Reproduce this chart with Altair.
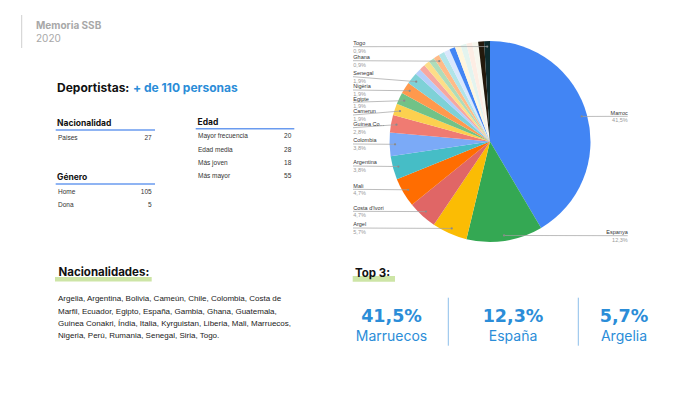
import math
import altair as alt
import pandas as pd

# ---------------- data ----------------
pie_countries = ["Marroc", "Espanya", "Argel", "Costa d'Ivori", "Mali", "Argentina",
                 "Colombia", "Guinea Conakri", "Camerun", "Egipte", "Nigèria", "Senegal",
                 "Bolívia", "Xile", "Equador", "Gàmbia", "Ghana", "Guatemala", "Índia",
                 "Itàlia", "Kirguizistan", "Libèria", "Perú", "Romania", "Síria", "Togo"]
pie_counts = [44, 13, 6, 5, 5, 4, 4, 3, 2, 2, 2, 2,
              1, 1, 1, 1, 1, 1, 1, 1, 1, 1, 1, 1, 1, 1]
pie_colors = ["#4285F4", "#34A853", "#FBBC04", "#E06666", "#FF6D01", "#46BDC6",
              "#7BAAF7", "#F07B72", "#FCD04F", "#71C287", "#FF994D", "#7ED1D7",
              "#B3CEFB", "#F7A7A0", "#FDDE88", "#AEDCBA", "#FFBB88", "#B0E4E8",
              "#D9E7FD", "#4285F4", "#FFF6DD", "#E3F4EF", "#FDEDE4", "#F7F7EE",
              "#24190C", "#0D2B2E"]
label_text = {"Guinea Conakri": "Guinea Co..."}
right_labels = ["Marroc", "Espanya"]
# leader-line label rows (layout)
label_line_y = {"Marroc": 116.3, "Espanya": 235.7, "Argel": 228.0, "Costa d'Ivori": 211.3,
                "Mali": 189.3, "Argentina": 166.0, "Colombia": 144.0, "Guinea Conakri": 127.7,
                "Camerun": 115.0, "Egipte": 102.3, "Nigèria": 90.0, "Senegal": 76.7,
                "Ghana": 60.7, "Togo": 46.7}

nac_labels = ["Paises"]
nac_values = [27]
gen_labels = ["Home", "Dona"]
gen_values = [105, 5]
edad_labels = ["Mayor frecuencia", "Edad media", "Más joven", "Más mayor"]
edad_values = [20, 28, 18, 55]

top3_names = ["Marruecos", "España", "Argelia"]

nacionalidades_lines = [
    "Argelia, Argentina, Bolivia, Cameún, Chile, Colombia, Costa de",
    "Marfil, Ecuador, Egipto, España, Gambia, Ghana, Guatemala,",
    "Guinea Conakri, Índia, Italia, Kyrguistan, Liberia, Mali, Marruecos,",
    "Nigeria, Perú, Rumania, Senegal, Siria, Togo.",
]

# ---------------- helpers ----------------
BLUE = "#2B8DD8"
xs = alt.Scale(domain=[8, 692], nice=False, zero=False)
ys = alt.Scale(domain=[385, 8], nice=False, zero=False)


def X(f):
    return alt.X(f"{f}:Q", scale=xs, axis=None)


def Y(f):
    return alt.Y(f"{f}:Q", scale=ys, axis=None)


def texts(rows, size, color, font, weight="normal", align="left", baseline="middle"):
    df = pd.DataFrame(rows, columns=["x", "y", "t"])
    return alt.Chart(df).mark_text(fontSize=size, color=color, font=font, fontWeight=weight,
                                   align=align, baseline=baseline).encode(
        x=X("x"), y=Y("y"), text="t:N")


def rules(rows, color, width):
    df = pd.DataFrame(rows, columns=["x1", "y1", "x2", "y2"])
    return alt.Chart(df).mark_rule(color=color, strokeWidth=width).encode(
        x=X("x1"), y=Y("y1"), x2="x2:Q", y2="y2:Q")


def rects(rows, color):
    df = pd.DataFrame(rows, columns=["x1", "y1", "x2", "y2"])
    return alt.Chart(df).mark_rect(color=color).encode(
        x=X("x1"), y=Y("y1"), x2="x2:Q", y2="y2:Q")


def pct(n, total):
    return f"{n / total * 100:.1f}".replace(".", ",") + "%"


layers = []

# ---------------- header ----------------
layers.append(rules([(21.7, 15, 21.7, 48)], "#cfcfcf", 1))
layers.append(texts([(36, 26, "Memoria SSB")], 10, "#a8a8a8", "Inter", "bold"))
layers.append(texts([(36, 39, "2020")], 10, "#a8a8a8", "Inter"))

layers.append(texts([(57, 87.5, "Deportistas:")], 12, "#111111", "Inter", "bold"))
layers.append(texts([(133, 87.5, "+ de 110 personas")], 12, BLUE, "Inter", "bold"))

# ---------------- tables ----------------
HEAD = dict(size=8.5, color="#111111", font="Inter", weight="bold")
ROW = dict(size=6.5, color="#333333", font="Liberation Sans")

layers.append(texts([(57, 123, "Nacionalidad"), (57, 177, "Género"), (197.5, 121.5, "Edad")], **HEAD))
layers.append(rules([(55.7, 130, 155, 130), (55.7, 184, 155, 184), (195.7, 128.7, 294.3, 128.7)],
                    "#6A9BEF", 1.6))

left_rows = []
left_vals = []
for i, (l, v) in enumerate(zip(nac_labels, nac_values)):
    left_rows.append((58, 137.5 + i * 13.3, l))
    left_vals.append((151.7, 137.5 + i * 13.3, str(v)))
for i, (l, v) in enumerate(zip(gen_labels, gen_values)):
    left_rows.append((58, 191.7 + i * 13.3, l))
    left_vals.append((151.7, 191.7 + i * 13.3, str(v)))
for i, (l, v) in enumerate(zip(edad_labels, edad_values)):
    left_rows.append((198, 136.3 + i * 13.35, l))
    left_vals.append((291.3, 136.3 + i * 13.35, str(v)))
layers.append(texts(left_rows, **ROW))
layers.append(texts(left_vals, **ROW, align="right"))

# ---------------- nacionalidades ----------------
layers.append(rects([(55, 277, 151.7, 281.5), (352.7, 276, 395, 281.7)], "#CDE5A6"))
layers.append(texts([(58.5, 273.3, "Nacionalidades:"), (355, 273.8, "Top 3:")], 11.5, "#111111", "Inter", "bold"))
layers.append(texts([(58, 299.3 + i * 12.25, t) for i, t in enumerate(nacionalidades_lines)],
                    8, "#222222", "Liberation Sans"))

# ---------------- top 3 ----------------
total = sum(pie_counts)
centers = [391.5, 513, 624]
layers.append(rules([(448.3, 297.7, 448.3, 345.7), (578.3, 297.7, 578.3, 345.7)], "#8DBEEA", 1))
layers.append(texts([(cx, 316.7, pct(n, total)) for cx, n in zip(centers, pie_counts[:3])],
                    17.5, BLUE, "DejaVu Sans", "bold", align="center"))
layers.append(texts([(cx, 337, nm) for cx, nm in zip(centers, top3_names)],
                    14, BLUE, "Inter", align="center"))

# ---------------- pie ----------------
CX, CY, R = 490, 141.5, 100.5
pie_df = pd.DataFrame({"idx": list(range(len(pie_counts))), "name": pie_countries,
                       "n": pie_counts, "color": pie_colors})
layers.append(alt.Chart(pie_df).mark_arc(outerRadius=R, innerRadius=0).encode(
    theta=alt.Theta("n:Q", stack=True),
    order=alt.Order("idx:Q"),
    color=alt.Color("color:N", scale=None, legend=None),
    x=alt.value(CX - 8), y=alt.value(CY - 8),
))

# leader lines / labels
line_rows, dot_rows, name_l, pct_l, name_r, pct_r = [], [], [], [], [], []
cum = 0
for name, n in zip(pie_countries, pie_counts):
    mid = (cum + n / 2) / total * 2 * math.pi
    cum += n
    if name not in label_line_y:
        continue
    ex = CX + 95 * math.sin(mid)
    ey = CY - 95 * math.cos(mid)
    ly = label_line_y[name]
    lab = label_text.get(name, name)
    dot_rows.append((ex, ey, ""))
    if name in right_labels:
        line_rows.append((ex, ey, 627.7, ly))
        name_r.append((627.7, ly - 3.6, lab))
        pct_r.append((627.7, ly + 3.8, pct(n, total)))
    else:
        line_rows.append((353, ly, ex, ey))
        name_l.append((353.3, ly - 3.6, lab))
        pct_l.append((353.3, ly + 3.8, pct(n, total)))

layers.append(rules(line_rows, "#a0a0a0", 0.7))
dot_df = pd.DataFrame(dot_rows, columns=["x", "y", "t"])
layers.append(alt.Chart(dot_df).mark_circle(size=5, color="#8a8a8a", opacity=1).encode(
    x=X("x"), y=Y("y")))
layers.append(texts(name_l, 5.5, "#333333", "Liberation Sans"))
layers.append(texts(pct_l, 5.5, "#9a9a9a", "Liberation Sans"))
layers.append(texts(name_r, 5.5, "#333333", "Liberation Sans", align="right"))
layers.append(texts(pct_r, 5.5, "#9a9a9a", "Liberation Sans", align="right"))

chart = alt.layer(*layers).properties(
    width=684, height=377, padding=0,
    autosize=alt.AutoSizeParams(type="none"),
    background="white",
).configure_view(stroke=None)

chart.save("out.html", embed_options={"renderer": "svg", "actions": False})
